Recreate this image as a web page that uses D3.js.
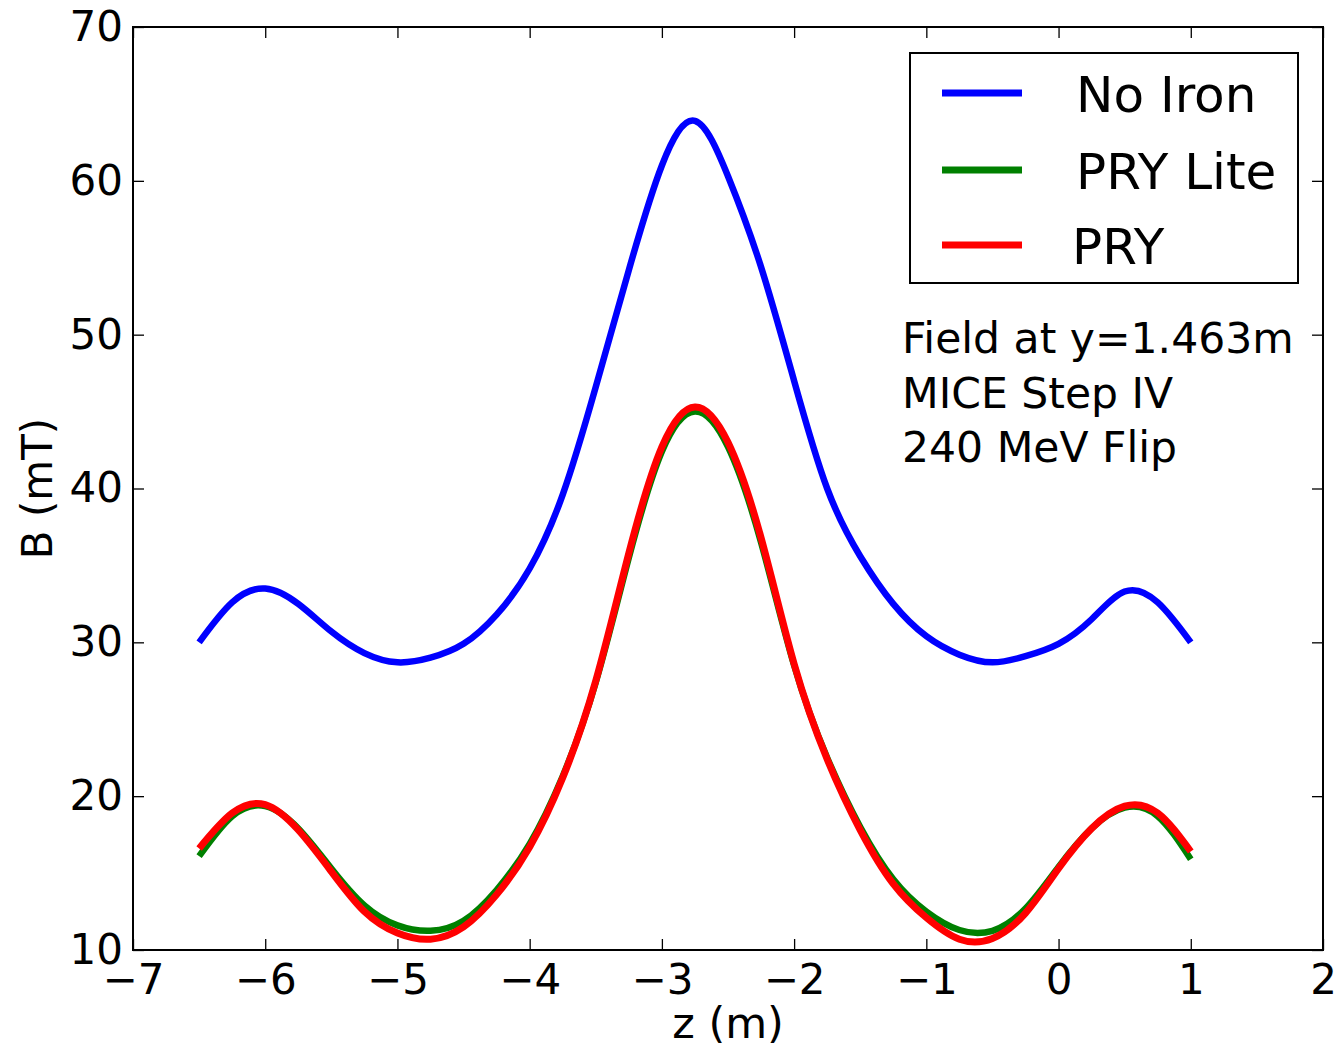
<!DOCTYPE html>
<html>
<head>
<meta charset="utf-8">
<script src="https://cdn.jsdelivr.net/npm/d3@7"></script>
<style>
  body { margin: 0; background: #fff; }
  svg { display: block; }
  text { font-family: "DejaVu Sans", sans-serif; fill: #000; }
</style>
</head>
<body>
<svg id="chart" width="1336" height="1050"></svg>
<script>
// z positions (m)
const zValues = [-6.5, -6.25, -6.0, -5.75, -5.5, -5.25, -5.0, -4.75, -4.5, -4.25,
  -4.0, -3.75, -3.5, -3.25, -3.0, -2.75, -2.5, -2.25, -2.0, -1.75,
  -1.5, -1.25, -1.0, -0.75, -0.5, -0.25, 0.0, 0.25, 0.5, 0.75, 1.0];

// B field (mT)
const noIron = [30.0, 32.6, 33.5, 32.5, 30.7, 29.3, 28.7, 29.0, 29.9, 31.8,
  34.8, 39.6, 46.6, 54.2, 61.0, 63.9, 60.3, 54.4, 47.0, 40.0,
  35.6, 32.5, 30.4, 29.2, 28.7, 29.1, 29.9, 31.5, 33.3, 32.6, 30.0];

const pryLite = [16.1, 18.7, 19.35, 17.9, 15.3, 12.9, 11.6, 11.25, 11.9, 13.9,
  16.9, 21.3, 27.4, 35.5, 42.4, 45.0, 42.7, 36.5, 28.5, 22.5,
  18.0, 14.6, 12.5, 11.3, 11.25, 12.7, 15.4, 17.9, 19.25, 18.7, 15.9];

const pry = [16.6, 18.9, 19.45, 17.8, 15.1, 12.5, 11.1, 10.7, 11.5, 13.6,
  16.7, 21.2, 27.5, 35.8, 42.7, 45.3, 43.0, 36.8, 28.6, 22.4,
  17.8, 14.3, 12.1, 10.7, 10.75, 12.4, 15.3, 17.9, 19.35, 18.9, 16.4];

const seriesNames = ["No Iron", "PRY Lite", "PRY"];
const seriesColors = ["#0000ff", "#008000", "#ff0000"];
const seriesData = [noIron, pryLite, pry];

const xTicks = [-7, -6, -5, -4, -3, -2, -1, 0, 1, 2];
const yTicks = [10, 20, 30, 40, 50, 60, 70];

const notes = ["Field at y=1.463m", "MICE Step IV", "240 MeV Flip"];

const svg = d3.select("#chart");
const plotLeft = 133, plotRight = 1323, plotTop = 27, plotBottom = 950;

const x = d3.scaleLinear().domain([-7, 2]).range([plotLeft, plotRight]);
const y = d3.scaleLinear().domain([10, 70]).range([plotBottom, plotTop]);

const tickLen = 11;
const fmt = d3.format("d");

// axes (ticks inside, on all four sides)
const gx = svg.append("g")
  .attr("transform", "translate(0," + plotBottom + ")")
  .call(d3.axisBottom(x).tickValues(xTicks).tickSize(-tickLen).tickPadding(14).tickFormat(fmt));
svg.append("g")
  .attr("transform", "translate(0," + plotTop + ")")
  .call(d3.axisTop(x).tickValues(xTicks).tickSize(-tickLen).tickFormat(""));
const gy = svg.append("g")
  .attr("transform", "translate(" + plotLeft + ",0)")
  .call(d3.axisLeft(y).tickValues(yTicks).tickSize(-tickLen).tickPadding(10).tickFormat(fmt));
svg.append("g")
  .attr("transform", "translate(" + plotRight + ",0)")
  .call(d3.axisRight(y).tickValues(yTicks).tickSize(-tickLen).tickFormat(""));

svg.selectAll(".domain").remove();
svg.selectAll(".tick line").attr("stroke", "#000").attr("stroke-width", 1.3);
svg.selectAll(".tick text")
  .attr("font-size", 42)
  .attr("font-family", "DejaVu Sans")
  .attr("fill", "#000");
gx.selectAll(".tick text").attr("dy", "0.72em");

// clip curves to plot area
svg.append("clipPath").attr("id", "plot-clip")
  .append("rect")
  .attr("x", plotLeft).attr("y", plotTop)
  .attr("width", plotRight - plotLeft).attr("height", plotBottom - plotTop);

const line = d3.line()
  .x((d, i) => x(zValues[i]))
  .y(d => y(d))
  .curve(d3.curveNatural);

const widths = [6.5, 6.5, 7];
svg.append("g").attr("clip-path", "url(#plot-clip)")
  .selectAll("path")
  .data(seriesData)
  .join("path")
  .attr("d", d => line(d))
  .attr("fill", "none")
  .attr("stroke", (d, i) => seriesColors[i])
  .attr("stroke-width", (d, i) => widths[i])
  .attr("stroke-linejoin", "round")
  .attr("stroke-linecap", "butt");

// frame
svg.append("rect")
  .attr("x", plotLeft).attr("y", plotTop)
  .attr("width", plotRight - plotLeft).attr("height", plotBottom - plotTop)
  .attr("fill", "none").attr("stroke", "#000").attr("stroke-width", 2);

// axis labels
svg.append("text")
  .attr("x", (plotLeft + plotRight) / 2).attr("y", 1038)
  .attr("text-anchor", "middle")
  .attr("font-size", 43)
  .text("z (m)");

svg.append("text")
  .attr("transform", "translate(52," + ((plotTop + plotBottom) / 2) + ") rotate(-90)")
  .attr("text-anchor", "middle")
  .attr("font-size", 42)
  .text("B (mT)");

// legend
const legend = svg.append("g");
legend.append("rect")
  .attr("x", 910).attr("y", 53)
  .attr("width", 388).attr("height", 230)
  .attr("fill", "#fff").attr("stroke", "#000").attr("stroke-width", 2);

const legendRows = [93, 170, 245];
seriesNames.forEach((name, i) => {
  legend.append("line")
    .attr("x1", 942).attr("x2", 1022)
    .attr("y1", legendRows[i]).attr("y2", legendRows[i])
    .attr("stroke", seriesColors[i]).attr("stroke-width", 7);
  legend.append("text")
    .attr("x", i == 2 ? 1072 : 1076).attr("y", legendRows[i] + 19)
    .attr("font-size", 50)
    .text(name);
});

// annotation
notes.forEach((t, i) => {
  svg.append("text")
    .attr("x", 902).attr("y", 353 + i * 54.5)
    .attr("font-size", 42.5)
    .text(t);
});
</script>
</body>
</html>
